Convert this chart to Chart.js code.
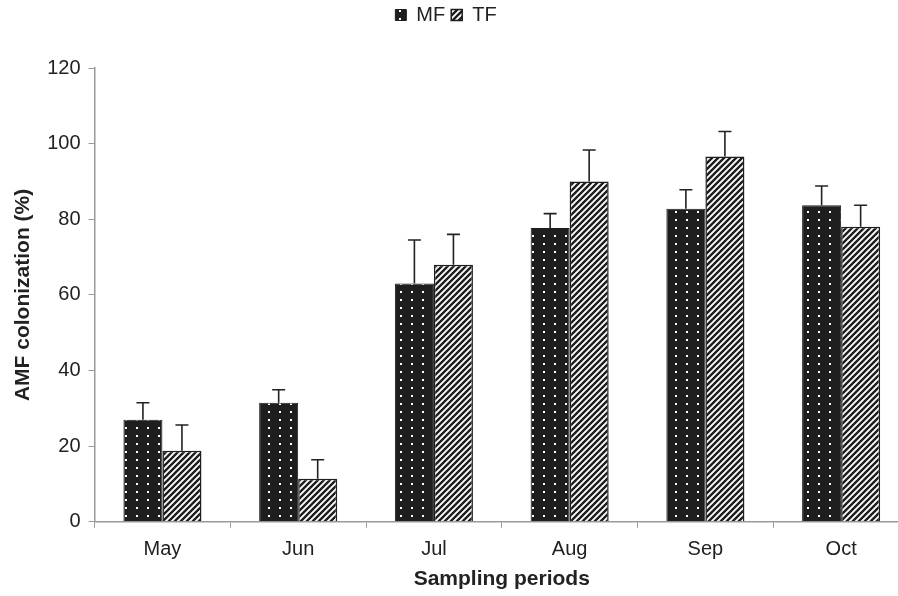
<!DOCTYPE html>
<html>
<head>
<meta charset="utf-8">
<script src="https://cdn.jsdelivr.net/npm/chart.js@4.4.1/dist/chart.umd.min.js"></script>
<style>
  html, body { margin: 0; padding: 0; background: #fff; overflow: hidden; }
  #wrap { width: 912px; height: 596px; }
</style>
</head>
<body>
<div id="wrap"><canvas id="amfChart"></canvas></div>
<script>
const months = ["May", "Jun", "Jul", "Aug", "Sep", "Oct"];
const mfValues = [27, 31.5, 63, 77.7, 82.8, 83.7];
const mfErrors = [4.5, 3.4, 11.5, 3.8, 5, 5.1];
const tfValues = [18.8, 11.4, 68, 90, 96.6, 78];
const tfErrors = [6.8, 5, 8, 8.3, 6.6, 5.7];
const yTicks = [0, 20, 40, 60, 80, 100, 120];

const FONT = "Liberation Sans, Arial";

function dotPattern() {
    const c = document.createElement("canvas");
    c.width = 11;
    c.height = 8;
    const g = c.getContext("2d");
    g.fillStyle = "#1e1e1e";
    g.fillRect(0, 0, 11, 8);
    g.fillStyle = "#ffffff";
    g.fillRect(4, 3, 2, 2);
    return g.createPattern(c, "repeat");
}

function stripePattern() {
    const s = 6;
    const c = document.createElement("canvas");
    c.width = s;
    c.height = s;
    const g = c.getContext("2d");
    g.fillStyle = "#ffffff";
    g.fillRect(0, 0, s, s);
    g.strokeStyle = "#1e1e1e";
    g.lineWidth = 2.4;
    g.beginPath();
    g.moveTo(-1, s + 1);
    g.lineTo(s + 1, -1);
    g.moveTo(-1, 1);
    g.lineTo(1, -1);
    g.moveTo(s - 1, s + 1);
    g.lineTo(s + 1, s - 1);
    g.stroke();
    return g.createPattern(c, "repeat");
}

// espacio extra debajo de la leyenda, y la leyenda un poco a la izquierda
const legendGap = {
    id: "legendGap",
    beforeInit(chart) {
        const fit = chart.legend.fit;
        chart.legend.fit = function () {
            fit.bind(chart.legend)();
            this.height += 32;
        };
        const draw = chart.legend.draw;
        chart.legend.draw = function () {
            chart.ctx.save();
            chart.ctx.translate(-12, -1);
            draw.call(this);
            chart.ctx.restore();
        };
    },
};

// barras de error, solo hacia arriba
const errorBars = {
    id: "errorBars",
    afterDatasetsDraw(chart) {
        const ctx = chart.ctx;
        const y = chart.scales.y;
        ctx.save();
        ctx.strokeStyle = "#222";
        ctx.lineWidth = 1.6;
        chart.data.datasets.forEach((ds, i) => {
            const meta = chart.getDatasetMeta(i);
            meta.data.forEach((bar, j) => {
                const top = y.getPixelForValue(ds.data[j]);
                const end = y.getPixelForValue(ds.data[j] + ds.errors[j]);
                ctx.beginPath();
                ctx.moveTo(bar.x, top);
                ctx.lineTo(bar.x, end);
                ctx.moveTo(bar.x - 6.5, end);
                ctx.lineTo(bar.x + 6.5, end);
                ctx.stroke();
            });
        });
        ctx.restore();
    },
};

const ctx = document.getElementById("amfChart").getContext("2d");
new Chart(ctx, {
    type: "bar",
    data: {
        labels: months,
        datasets: [
            {
                label: "MF",
                data: mfValues,
                errors: mfErrors,
                backgroundColor: dotPattern(),
                borderColor: "#1e1e1e",
                borderWidth: 1,
            },
            {
                label: "TF",
                data: tfValues,
                errors: tfErrors,
                backgroundColor: stripePattern(),
                borderColor: "#1e1e1e",
                borderWidth: 1.5,
            },
        ],
    },
    options: {
        responsive: true,
        maintainAspectRatio: false,
        animation: false,
        layout: { padding: { left: 7, right: 3, top: 0, bottom: 0 } },
        datasets: { bar: { categoryPercentage: 0.575, barPercentage: 1 } },
        plugins: {
            legend: {
                position: "top",
                labels: {
                    boxWidth: 11,
                    boxHeight: 11,
                    padding: 6,
                    color: "#222",
                    font: { family: FONT, size: 20 },
                },
            },
            tooltip: { enabled: false },
        },
        scales: {
            x: {
                grid: { display: true, drawOnChartArea: false, drawTicks: true, tickLength: 6, color: "#999", offset: true },
                border: { color: "#999", width: 1.5 },
                ticks: { color: "#222", font: { family: FONT, size: 20 }, padding: 10 },
                title: {
                    display: true,
                    text: "Sampling periods",
                    color: "#222",
                    font: { family: FONT, size: 21, weight: "bold" },
                    padding: { top: -5, bottom: 4 },
                },
            },
            y: {
                min: 0,
                max: 120,
                afterBuildTicks: (axis) => { axis.ticks = yTicks.map((v) => ({ value: v })); },
                grid: { display: true, drawOnChartArea: false, drawTicks: true, tickLength: 6, color: "#999" },
                border: { color: "#999", width: 1.5 },
                ticks: { color: "#222", font: { family: FONT, size: 20 }, padding: 8 },
                title: {
                    display: true,
                    text: "AMF colonization (%)",
                    color: "#222",
                    font: { family: FONT, size: 21, weight: "bold" },
                    padding: { bottom: 3 },
                },
            },
        },
    },
    plugins: [legendGap, errorBars],
});
</script>
</body>
</html>
